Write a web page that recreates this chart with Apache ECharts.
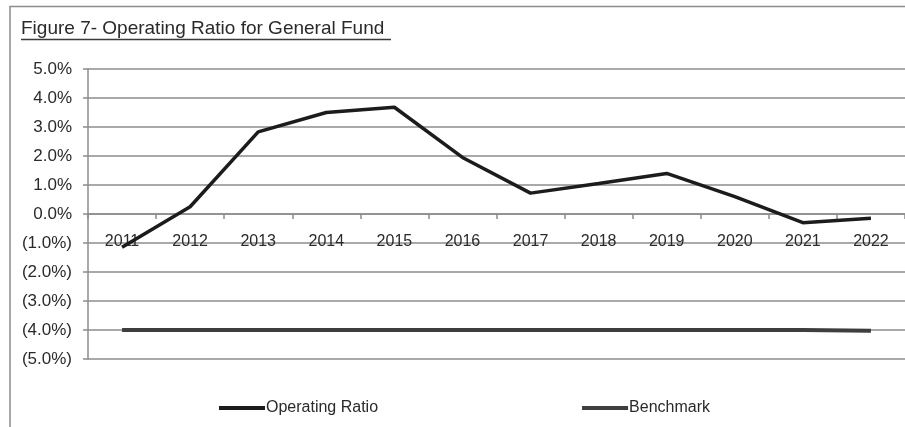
<!DOCTYPE html>
<html>
<head>
<meta charset="utf-8">
<script src="https://cdn.jsdelivr.net/npm/echarts@6/dist/echarts.min.js"></script>
<style>
  html, body { margin: 0; padding: 0; background: #fff; }
  #chart { width: 905px; height: 427px; }
</style>
</head>
<body>
<div id="chart"></div>
<script>
// Fiscal years on the category axis
const years = ['2011', '2012', '2013', '2014', '2015', '2016', '2017', '2018', '2019', '2020', '2021', '2022'];
// Operating ratio of the General Fund, in percent
const operatingRatio = [-1.15, 0.25, 2.83, 3.5, 3.68, 1.95, 0.72, 1.05, 1.4, 0.6, -0.3, -0.15];
// Benchmark ratio, in percent
const benchmark = [-4.0, -4.0, -4.0, -4.0, -4.0, -4.0, -4.0, -4.0, -4.0, -4.0, -4.0, -4.03];
// Value axis range and step, in percent
const yMin = -5, yMax = 5, yStep = 1;

const FONT = '"Liberation Sans", Arial, sans-serif';

// plot box, in pixels
const GRID_TOP = 69, GRID_BOTTOM = 68, CHART_H = 427;
const plotH = CHART_H - GRID_TOP - GRID_BOTTOM;
// shift the category axis up from the bottom edge to the zero line
const zeroOffset = -plotH * (0 - yMin) / (yMax - yMin);

function pctLabel(v) {
  const s = Math.abs(v).toFixed(1) + '%';
  return v < 0 ? '(' + s + ')' : s;
}

const chart = echarts.init(document.getElementById('chart'), null, { renderer: 'canvas' });

chart.setOption({
  backgroundColor: '#ffffff',
  animation: false,
  graphic: [
    // frame around the figure
    { type: 'polyline', silent: true,
      shape: { points: [[10, 430], [10, 6.5], [910, 6.5]] },
      style: { stroke: '#8c8c8c', lineWidth: 1.5, fill: null } },
    // figure caption
    { type: 'text', left: 21, top: 19,
      style: { text: 'Figure 7- Operating Ratio for General Fund', font: '19px ' + FONT, fill: '#2a2a2a' } },
    // caption underline
    { type: 'line', silent: true,
      shape: { x1: 21, y1: 39.5, x2: 391, y2: 39.5 },
      style: { stroke: '#3a3a3a', lineWidth: 1.5 } }
  ],
  grid: { left: 88, right: -5, top: GRID_TOP, bottom: GRID_BOTTOM, containLabel: false },
  legend: {
    left: 214, top: 395,
    itemWidth: 46, itemHeight: 4, itemGap: 204,
    icon: 'rect',
    textStyle: { fontFamily: FONT, fontSize: 16, color: '#2a2a2a', padding: [0, 0, 0, -4] },
    data: ['Operating Ratio', 'Benchmark']
  },
  xAxis: {
    type: 'category',
    data: years,
    boundaryGap: true,
    position: 'bottom',
    offset: zeroOffset,
    axisLine: { onZero: false, lineStyle: { color: '#8c8c8c', width: 1.5 } },
    axisTick: { show: true, length: 5, inside: false, lineStyle: { color: '#8c8c8c', width: 1.5 } },
    axisLabel: { margin: 20, fontFamily: FONT, fontSize: 16, color: '#2a2a2a' }
  },
  yAxis: {
    type: 'value',
    min: yMin, max: yMax, interval: yStep,
    axisLine: { show: true, lineStyle: { color: '#8c8c8c', width: 1.5 } },
    axisTick: { show: true, length: 5, lineStyle: { color: '#8c8c8c', width: 1.5 } },
    splitLine: { show: true, lineStyle: { color: '#8c8c8c', width: 1.5 } },
    axisLabel: { margin: 16, fontFamily: FONT, fontSize: 17, color: '#2a2a2a', formatter: pctLabel }
  },
  series: [
    {
      name: 'Operating Ratio',
      type: 'line',
      data: operatingRatio,
      symbol: 'none',
      lineStyle: { color: '#1c1c1c', width: 3.5 },
      itemStyle: { color: '#1c1c1c' },
      z: 5
    },
    {
      name: 'Benchmark',
      type: 'line',
      data: benchmark,
      symbol: 'none',
      lineStyle: { color: '#3e3e3e', width: 4 },
      itemStyle: { color: '#3e3e3e' },
      z: 4
    }
  ]
});
</script>
</body>
</html>
